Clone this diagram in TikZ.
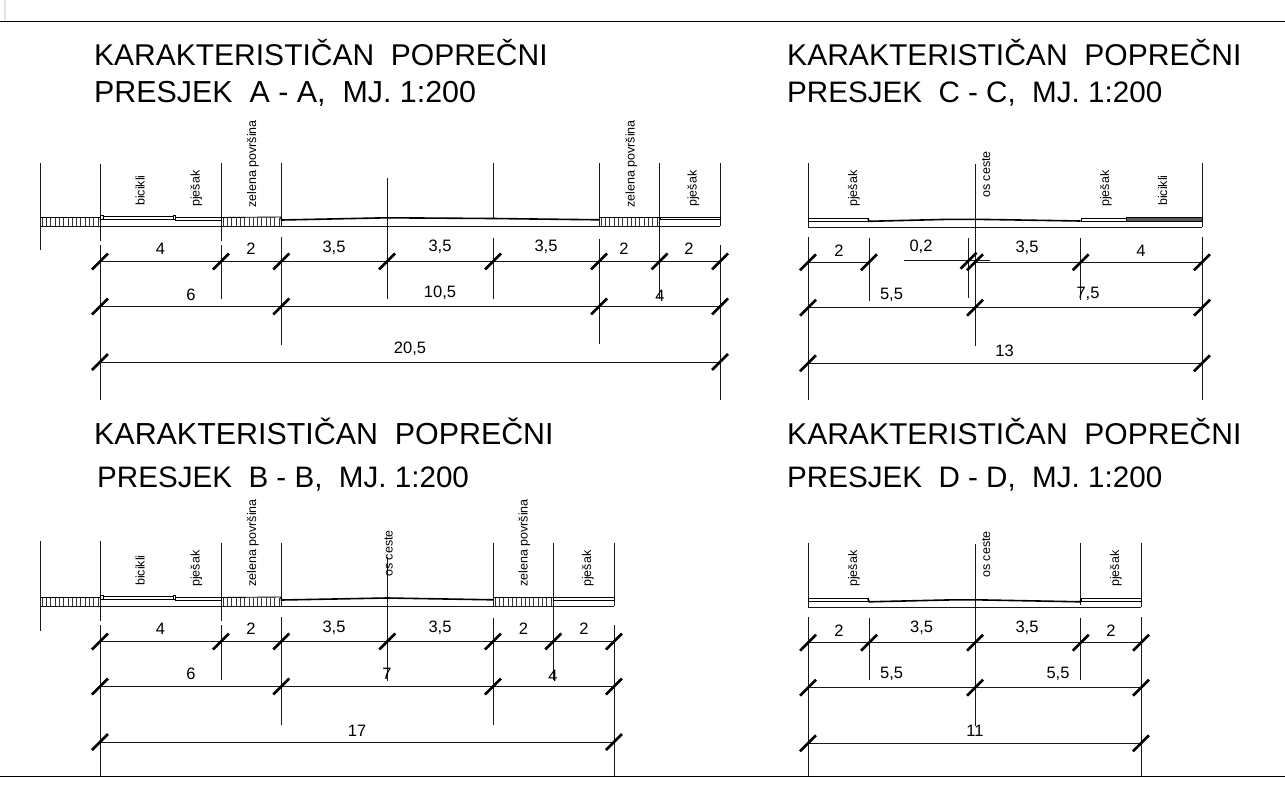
\documentclass[tikz,border=0pt]{standalone}
\usepackage{fontspec}
\setmainfont{Liberation Sans}
\newcommand{\dtick}[2]{\draw[slashmark] (#1-8,#2+8) -- (#1+8,#2-8);}
\newcommand{\vln}[3]{\draw[ln] (#1,#2) -- (#1,#3);}
\newcommand{\rowline}[3]{\draw[ln] (#2,#1) -- (#3,#1); \dtick{#2}{#1} \dtick{#3}{#1}}
\newcommand{\hatchrun}[4]{\foreach \hx in {#1,#2,...,#3} {\draw[hatchst] (\hx,#4) -- (\hx,#4+8.5);}}
\newcommand{\boxrun}[4]{\draw[slab] (#1,#3) rectangle (#2,#4);}
\tikzset{
  x=1pt,y=-1pt,
  ln/.style={line width=0.8pt,black!90},
  slashmark/.style={line width=2.6pt,black},
  hatchst/.style={line width=0.6pt,black!80},
  slab/.style={line width=0.9pt,black,fill=white},
  road/.style={line width=1.6pt,black},
  ttl/.style={font=\fontsize{#1}{32}\selectfont,anchor=base west,inner sep=0pt,text=black},
  dimt/.style={font=\fontsize{16.5}{18}\selectfont,inner sep=0pt,anchor=center,text=black},
  lbl/.style={font=\fontsize{12.5}{14}\selectfont,rotate=90,anchor=base west,inner sep=0pt,text=black}
}
\begin{document}
\begin{tikzpicture}
\useasboundingbox (0,0) rectangle (1285,803);
\fill[white] (0,0) rectangle (1285,803);
% frame
\draw[line width=1.8pt,black!12] (5,0) -- (5,20);
\draw[line width=1pt,black] (0,21) -- (1285,21);
\draw[line width=1pt,black] (0,776) -- (1285,776);
% titles
\node[ttl=30] (tA1) at (94,65) {KARAKTERISTIČAN\ \ POPREČNI};
\node[ttl=30.4] (tA2) at (94,102) {PRESJEK\ \ A - A,\ \ MJ. 1:200};
\node[ttl=30.05] (tC1) at (787,65) {KARAKTERISTIČAN\ \ POPREČNI};
\node[ttl=29.6] (tC2) at (787,102) {PRESJEK\ \ C - C,\ \ MJ. 1:200};
\node[ttl=30.4] (tB1) at (94,444) {KARAKTERISTIČAN\ \ POPREČNI};
\node[ttl=29.6] (tB2) at (97,487) {PRESJEK\ \ B - B,\ \ MJ. 1:200};
\node[ttl=30.05] (tD1) at (787,444) {KARAKTERISTIČAN\ \ POPREČNI};
\node[ttl=29.6] (tD2) at (787,487) {PRESJEK\ \ D - D,\ \ MJ. 1:200};

% ===== Section A =====
\vln{40}{163}{250}
\vln{100}{164}{241} \vln{100}{245}{400}
\vln{221}{163}{241} \vln{221}{245}{299}
\vln{281.3}{163}{226} \vln{281.3}{237}{345}
\vln{387}{178}{299}
\vln{493}{163}{219} \vln{493}{238}{299}
\vln{599}{163}{226} \vln{599}{239}{344}
\vln{659.5}{163}{299}
\vln{720}{163}{226} \vln{720}{245}{400}
\draw[ln] (40,226) -- (720,226);
\draw[line width=0.9pt] (40,217.5) -- (100,217.5);
\hatchrun{42}{46.3}{100}{217.5}
\boxrun{100}{103}{215.5}{219.5}
\boxrun{103}{173}{216}{219}
\boxrun{173}{175.5}{215.5}{219.5}
\boxrun{175.5}{221}{217.5}{220.5}
\draw[line width=0.9pt] (221,217.5) -- (281,217);
\hatchrun{223}{227.3}{279}{217.5}
\draw[road] (281,217) -- (281.5,220) -- (387,217.8) -- (493,218.5) -- (599,219.8);
\draw[line width=0.9pt] (599,217.5) -- (660,217.5);
\hatchrun{601}{605.3}{658}{217.8}
\boxrun{660}{720}{217.2}{219.8}
\rowline{261.5}{100}{720}
\foreach \tx in {221,281.3,387,493,599,659.5} {\dtick{\tx}{261.5}}
\rowline{306.5}{100}{720}
\foreach \tx in {281.3,599} {\dtick{\tx}{306.5}}
\rowline{362}{100}{720}
\node[dimt] (a1) at (160.5,249) {4};
\node[dimt] (a2) at (251,249) {2};
\node[dimt] (a3) at (334,248) {3,5};
\node[dimt] (a4) at (440,247) {3,5};
\node[dimt] (a5) at (546,247) {3,5};
\node[dimt] (a6) at (624,249) {2};
\node[dimt] (a7) at (689,249) {2};
\node[dimt] (a8) at (191,295) {6};
\node[dimt] (a9) at (440,293) {10,5};
\node[dimt] (a10) at (660,296) {4};
\node[dimt] (a11) at (410,349) {20,5};
\node[lbl] (al1) at (144.5,206) {bicikli};
\node[lbl] (al2) at (199.6,207) {pješak};
\node[lbl] (al3) at (256,208) {zelena površina};
\node[lbl] (al4) at (634.5,208) {zelena površina};
\node[lbl] (al5) at (696.6,207) {pješak};

% ===== Section B =====
\vln{40}{541}{631}
\vln{100}{541}{621} \vln{100}{625}{776}
\vln{221}{543}{621} \vln{221}{625}{680}
\vln{281.3}{543}{606} \vln{281.3}{617}{725}
\vln{387.3}{557}{681}
\vln{493}{543}{606} \vln{493}{618}{725}
\vln{553.3}{543}{680}
\vln{614}{543}{606} \vln{614}{625}{776}
\draw[ln] (40,606) -- (614,606);
\draw[line width=0.9pt] (40,597.5) -- (100,597.5);
\hatchrun{42}{46.3}{100}{597.5}
\boxrun{100}{103}{595.5}{599.5}
\boxrun{103}{173}{596}{599}
\boxrun{173}{175.5}{595.5}{599.5}
\boxrun{175.5}{221}{597.5}{600.5}
\draw[line width=0.9pt] (221,597.5) -- (281,597);
\hatchrun{223}{227.3}{279}{597.5}
\draw[road] (281,597) -- (281.5,600) -- (387,598) -- (493,599.8);
\draw[line width=0.9pt] (493,597.5) -- (553,597.5);
\hatchrun{495}{499.3}{552}{597.8}
\boxrun{553.3}{614}{597.2}{600}
\rowline{641.5}{100}{614}
\foreach \tx in {221,281.3,387.3,493,553.3} {\dtick{\tx}{641.5}}
\rowline{686.5}{100}{614}
\foreach \tx in {281.3,493} {\dtick{\tx}{686.5}}
\rowline{742}{100}{614}
\node[dimt] (b1) at (160.5,629) {4};
\node[dimt] (b2) at (251,629) {2};
\node[dimt] (b3) at (334,628) {3,5};
\node[dimt] (b4) at (440,628) {3,5};
\node[dimt] (b5) at (523.5,629) {2};
\node[dimt] (b6) at (584,629) {2};
\node[dimt] (b7) at (191,674) {6};
\node[dimt] (b8) at (387,674) {7};
\node[dimt] (b9) at (553,676) {4};
\node[dimt] (b10) at (357,731) {17};
\node[lbl] (bl1) at (144.5,586) {bicikli};
\node[lbl] (bl2) at (199.6,587) {pješak};
\node[lbl] (bl3) at (256,587) {zelena površina};
\node[lbl] (bl4) at (392.5,577) {os ceste};
\node[lbl] (bl5) at (527.5,587) {zelena površina};
\node[lbl] (bl6) at (591,587) {pješak};

% ===== Section C =====
\vln{808}{163}{227} \vln{808}{237}{400}
\vln{869}{238}{301}
\vln{968.5}{238}{298}
\vln{975}{164}{346}
\vln{1080.7}{238}{300}
\vln{1202}{163}{227} \vln{1202}{237}{400}
\draw[ln] (808,227) -- (1202,227);
\boxrun{808}{868}{218.5}{221.3}
\draw[road] (868,218.5) -- (869,221.3) -- (950,219.3) -- (975,219.3) -- (1080.5,221);
\boxrun{1081}{1126}{218.5}{221}
\draw[line width=0.8pt,draw=black,fill=black!65] (1126,217.3) rectangle (1202,221);
\draw[ln] (808,262.3) -- (869,262.3);
\draw[ln] (975,262.3) -- (1202,262.3);
\draw[ln] (904,260.7) -- (990,260.7);
\foreach \tx in {808,869,975,1080.7,1202} {\dtick{\tx}{262.3}}
\dtick{968.5}{260.7}
\rowline{307.7}{808}{1202}
\dtick{975}{307.7}
\rowline{363.3}{808}{1202}
\node[dimt] (c1) at (839,251) {2};
\node[dimt] (c2) at (921,247) {0,2};
\node[dimt] (c3) at (1027,248) {3,5};
\node[dimt] (c4) at (1141,251) {4};
\node[dimt] (c5) at (891.5,295) {5,5};
\node[dimt] (c6) at (1088,294) {7,5};
\node[dimt] (c7) at (1004.6,351) {13};
\node[lbl] (cl1) at (857,207) {pješak};
\node[lbl] (cl2) at (990,198) {os ceste};
\node[lbl] (cl3) at (1109,207) {pješak};
\node[lbl] (cl4) at (1167,206) {bicikli};

% ===== Section D =====
\vln{808}{543}{607} \vln{808}{617}{776}
\vln{869}{618}{680}
\vln{975}{544}{726}
\vln{1080.7}{543}{605} \vln{1080.7}{618}{680}
\vln{1141}{543}{607} \vln{1141}{617}{776}
\draw[ln] (808,607) -- (1141,607);
\boxrun{808}{868}{598.8}{601}
\draw[road] (868,598.8) -- (869,601.8) -- (955,599.8) -- (975,599.8) -- (1080.5,601.8) -- (1081,598.5);
\boxrun{1081}{1141}{598.5}{601}
\rowline{642.7}{808}{1141}
\foreach \tx in {869,975,1080.7} {\dtick{\tx}{642.7}}
\rowline{687.7}{808}{1141}
\dtick{975}{687.7}
\rowline{743.3}{808}{1141}
\node[dimt] (d1) at (839,631) {2};
\node[dimt] (d2) at (921.6,628) {3,5};
\node[dimt] (d3) at (1027,628) {3,5};
\node[dimt] (d4) at (1111,631) {2};
\node[dimt] (d5) at (891.6,674) {5,5};
\node[dimt] (d6) at (1058,674) {5,5};
\node[dimt] (d7) at (975,731) {11};
\node[lbl] (dl1) at (857,587) {pješak};
\node[lbl] (dl2) at (990,578) {os ceste};
\node[lbl] (dl3) at (1119,587) {pješak};
\end{tikzpicture}
\end{document}
